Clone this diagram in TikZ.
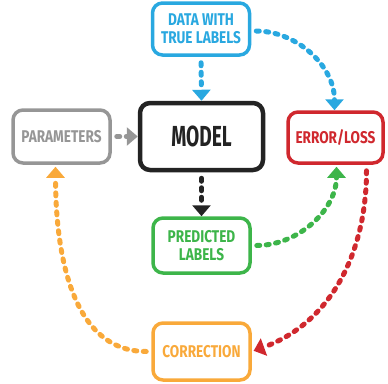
\documentclass[tikz,border=0pt]{standalone}
\usepackage{fontspec}
\setmainfont[FakeStretch=0.8]{Fira Sans}
\newfontfamily\modelfont[FakeStretch=0.66]{Fira Sans}
\usetikzlibrary{arrows.meta}
\definecolor{cblue}{RGB}{41,168,224}
\definecolor{cgray}{RGB}{150,150,150}
\definecolor{cblack}{RGB}{35,35,35}
\definecolor{cred}{RGB}{208,40,46}
\definecolor{cgreen}{RGB}{61,181,74}
\definecolor{corange}{RGB}{249,169,58}
\tikzset{
  box/.style={draw, line width=3.5pt, rounded corners=10pt, inner sep=0pt,
    align=center, font=\bfseries\fontsize{17}{18}\selectfont, fill=white},
  flow/.style={line width=5pt, line cap=round, dash pattern=on 3pt off 6.5pt,
    -{Triangle[width=18pt,length=11pt]}},
}
\begin{document}
\begin{tikzpicture}[x=1pt,y=-1pt]
\useasboundingbox (0,0) rectangle (388,383);
\node[box, draw=cblue, text=cblue, minimum width=97pt, minimum height=52pt] (data) at (201,29) {DATA WITH\\TRUE LABELS};
\node[box, draw=cgray, text=cgray, minimum width=97pt, minimum height=53pt] (params) at (61.5,136.5) {PARAMETERS};
\node[box, draw=cblack, text=cblack, line width=4.5pt, minimum width=123pt, minimum height=67pt, font=\modelfont\bfseries\fontsize{29}{30}\selectfont] (model) at (201.5,136.5) {MODEL};
\node[box, draw=cred, text=cred, minimum width=95pt, minimum height=51pt] (error) at (335.5,137.5) {ERROR/LOSS};
\node[box, draw=cgreen, text=cgreen, minimum width=97pt, minimum height=55pt] (pred) at (201.5,245.5) {PREDICTED\\LABELS};
\node[box, draw=corange, text=corange, minimum width=97pt, minimum height=57pt] (corr) at (201.5,351.5) {CORRECTION};

\draw[flow, cblue, shorten <=6pt] (data.south) -- (model.north);
\draw[flow, cblack, shorten <=6pt] (model.south) -- (pred.north);
\draw[flow, cgray, shorten <=5pt] (params.east) -- (model.west);
\draw[flow, cblue, shorten <=5pt] ([yshift=-2pt]data.east) to[out=0, in=90] ([xshift=-1pt]error.north);
\draw[flow, cgreen, shorten <=5pt, shorten >=2pt] (pred.east) to[out=0, in=-90] ([xshift=1pt]error.south);
\draw[flow, cred, shorten <=6pt, shorten >=2pt] ([xshift=31pt]error.south) to[out=-90, in=20] (corr.east);
\draw[flow, corange, shorten <=5pt, shorten >=2pt] (corr.west) to[out=180, in=-90] ([xshift=-6pt]params.south);
\end{tikzpicture}
\end{document}
